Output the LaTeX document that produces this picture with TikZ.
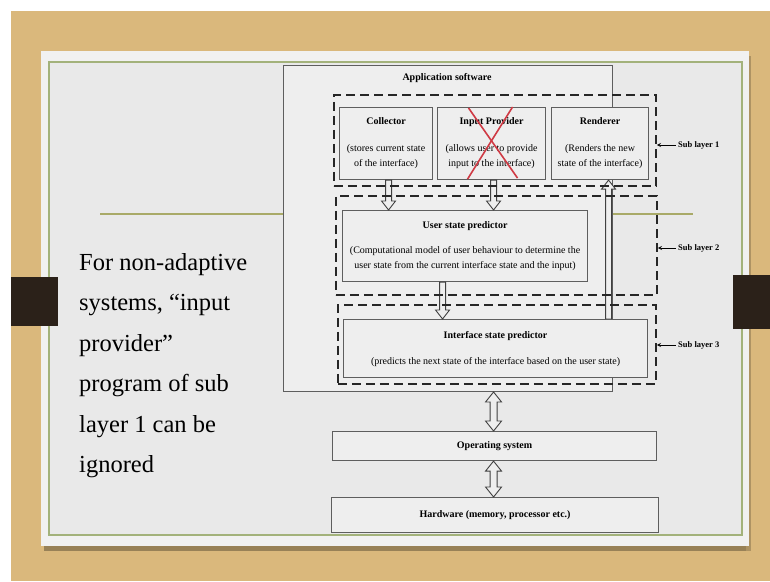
\documentclass[tikz,border=0pt]{standalone}
\usepackage{fontspec}
\setmainfont{Liberation Serif}
\usetikzlibrary{calc,positioning}

\definecolor{wood}{HTML}{DAB87C}
\definecolor{slideedge}{HTML}{F1F1F1}
\definecolor{slidebg}{HTML}{E9E9E9}
\definecolor{frameline}{HTML}{A3B27B}
\definecolor{ruleline}{HTML}{A9AA68}
\definecolor{tabcol}{HTML}{2B2119}
\definecolor{boxline}{HTML}{5E5E5E}
\definecolor{boxfill}{HTML}{EEEEEE}
\definecolor{crossred}{HTML}{CF3A44}

\tikzset{
  layerbox/.style={draw=boxline, fill=boxfill, line width=1.1pt, align=center,
    inner sep=0pt, anchor=north west, font=\fontsize{10}{15}\selectfont},
  sublayer/.style={draw=black!85, line width=1.9pt, dash pattern=on 9pt off 5pt,
    inner sep=0pt, anchor=north west},
  blockarrow/.style={draw=black!75, fill=boxfill, line width=0.9pt},
  sublabel/.style={anchor=west, inner sep=2pt, font=\bfseries\fontsize{8.5}{10}\selectfont},
}

% hollow block arrows, vertical, from #1 to #2
\newcommand{\hollowarrow}[2]{%
  \draw[blockarrow] let \p1=(#1), \p2=(#2), \n1={ifthenelse(\y2>\y1,1,-1)} in
    ({\x1-3pt},\y1) -- ({\x1-3pt},{\y2-(\n1)*9pt}) -- ({\x1-7pt},{\y2-(\n1)*9pt})
    -- (\x1,\y2) -- ({\x1+7pt},{\y2-(\n1)*9pt}) -- ({\x1+3pt},{\y2-(\n1)*9pt})
    -- ({\x1+3pt},\y1) -- cycle;}
\newcommand{\hollowdarrow}[2]{%
  \draw[blockarrow] let \p1=(#1), \p2=(#2), \n1={ifthenelse(\y2>\y1,1,-1)} in
    (\x1,\y1) -- ({\x1+8pt},{\y1+(\n1)*10pt}) -- ({\x1+3.5pt},{\y1+(\n1)*10pt})
    -- ({\x1+3.5pt},{\y2-(\n1)*10pt}) -- ({\x1+8pt},{\y2-(\n1)*10pt}) -- (\x1,\y2)
    -- ({\x1-8pt},{\y2-(\n1)*10pt}) -- ({\x1-3.5pt},{\y2-(\n1)*10pt})
    -- ({\x1-3.5pt},{\y1+(\n1)*10pt}) -- ({\x1-8pt},{\y1+(\n1)*10pt}) -- cycle;}

\begin{document}
\begin{tikzpicture}[x=1pt,y=-1pt]
\useasboundingbox (0,0) rectangle (770,581);
\fill[white] (0,0) rectangle (770,581);

% slide on the wooden frame
\fill[wood] (11,11) rectangle (770,581);
\fill[black!30!wood] (44,544) rectangle (751,551);
\fill[black!20!wood] (746,56) rectangle (751,551);
\fill[slideedge] (41,51) rectangle (749,546);
\draw[frameline, fill=slidebg, line width=1.3pt] (49,62) rectangle (742,535);
\fill[tabcol] (11,277) rectangle (58,326);
\fill[tabcol] (733,275) rectangle (770,329);
\draw[ruleline, line width=1.8pt] (100,214) -- (693,214);

\node[anchor=north west, align=left, inner sep=0pt,
  font=\fontsize{24.5}{40.5}\selectfont] (note) at (79,253)
  {For non-adaptive\\systems, “input\\provider”\\program of sub\\layer 1 can be\\ignored};

% application software
\node[draw=boxline, fill=boxfill, line width=1pt, inner sep=0pt, anchor=north west,
  minimum width=329pt, minimum height=326pt] (app) at (283,65) {};
\node[font=\bfseries\fontsize{10}{12}\selectfont] (apptitle) at (447,78) {Application software};

\node[layerbox, minimum width=93pt, minimum height=72pt] (coll) at (339,107)
  {\textbf{Collector}\\[12pt](stores current state\\of the interface)};
\node[layerbox, minimum width=108pt, minimum height=72pt] (inp) at (437,107)
  {\textbf{Input Provider}\\[12pt](allows user to provide\\input to the interface)};
\node[layerbox, minimum width=97pt, minimum height=72pt] (rend) at (551,107)
  {\textbf{Renderer}\\[12pt](Renders the new\\state of the interface)};
\node[layerbox, minimum width=245pt, minimum height=71pt] (usp) at (342,210)
  {\textbf{User state predictor}\\[10pt](Computational model of user behaviour to determine the\\user state from the current interface state and the input)};
\node[layerbox, minimum width=304pt, minimum height=58pt] (isp) at (343,319)
  {\textbf{Interface state predictor}\\[11pt](predicts the next state of the interface based on the user state)};
\node[layerbox, minimum width=324pt, minimum height=29pt] (os) at (332,431)
  {\textbf{Operating system}};
\node[layerbox, minimum width=327pt, minimum height=35pt] (hw) at (331,497)
  {\textbf{Hardware (memory, processor etc.)}};

\hollowarrow{[xshift=2.5pt]coll.south}{usp.north}
\hollowarrow{[xshift=2pt]inp.south}{usp.north}
\hollowarrow{[xshift=-22.5pt]usp.south}{isp.north}
\hollowarrow{[xshift=8.5pt]rend.south |- isp.north}{rend.south}
\hollowdarrow{[xshift=-1pt]os.north |- app.south}{os.north}
\hollowdarrow{[xshift=-1pt]os.south}{hw.north}

% sub layers
\node[sublayer, minimum width=322pt, minimum height=91pt] (sl1) at (333,94) {};
\node[sublayer, minimum width=321pt, minimum height=99pt] (sl2) at (335,195) {};
\node[sublayer, minimum width=318pt, minimum height=79pt] (sl3) at (337,304) {};

\draw[crossred, line width=1.6pt] ([xshift=-23pt,yshift=-1pt]inp.north) -- ([xshift=26pt,yshift=2pt]inp.south);
\draw[crossred, line width=1.6pt] ([xshift=21pt]inp.north) -- ([xshift=-24pt,yshift=1pt]inp.south);

\node[sublabel] (lab1) at (676,145) {Sub layer 1};
\node[sublabel] (lab2) at (676,248) {Sub layer 2};
\node[sublabel] (lab3) at (676,345) {Sub layer 3};
\foreach \i in {1,2,3}
  \draw[<-, >=stealth, line width=0.8pt] (sl\i.east |- lab\i.west) -- (lab\i.west);
\end{tikzpicture}
\end{document}
